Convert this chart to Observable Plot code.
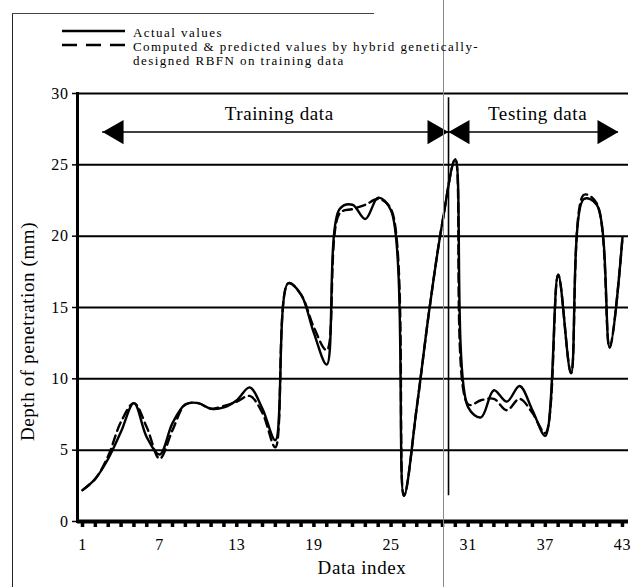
<!DOCTYPE html>
<html>
<head>
<meta charset="utf-8">
<script src="https://cdn.jsdelivr.net/npm/d3@7"></script>
<script src="https://cdn.jsdelivr.net/npm/@observablehq/plot@0.6"></script>
<style>
  body { margin: 0; background: #fff; }
  #wrap { position: relative; width: 635px; height: 587px; font-family: "Liberation Serif", serif; color: #000; overflow: hidden; }
  #chart { position: absolute; left: 0; top: 0; }
  #chart svg text { letter-spacing: 0.6px; }
  #chart svg text.phase { letter-spacing: 3.6px; }
  #chart svg text.axis-title { letter-spacing: 2.6px; }
  .legend { position: absolute; left: 62px; top: 26px; font-size: 13px; letter-spacing: 1.45px; line-height: 14px; }
  .legend .row { display: flex; align-items: flex-start; }
  .legend svg { flex: none; margin-right: 8px; margin-top: 0; }
  .frame-left { position: absolute; left: 12px; top: 13px; width: 1px; height: 574px; background: #222; }
  .frame-top { position: absolute; left: 12px; top: 13px; width: 362px; height: 1px; background: #444; }
  .fold { position: absolute; left: 443px; top: 0; width: 1px; height: 587px; background: #8a8a8a; }
</style>
</head>
<body>
<div id="wrap">
  <div class="frame-left"></div>
  <div class="frame-top"></div>
  <div id="chart"></div>
  <div class="fold"></div>
  <div class="legend">
    <div class="row">
      <svg width="63" height="10"><line x1="0" x2="63" y1="5" y2="5" stroke="#000" stroke-width="2.4"/></svg>
      <div>Actual values</div>
    </div>
    <div class="row">
      <svg width="63" height="10"><line x1="0" x2="63" y1="5" y2="5" stroke="#000" stroke-width="2.4" stroke-dasharray="15,9"/></svg>
      <div>Computed &amp; predicted values by hybrid genetically-<br>designed RBFN on training data</div>
    </div>
  </div>
</div>
<script>
// Data index 1..43 and the two series
const index = d3.range(1, 44);
const actual = [
  2.2, 3.0, 4.4, 6.3, 8.3, 5.9, 4.7, 6.9, 8.2, 8.3,
  7.9, 8.0, 8.5, 9.4, 7.9, 5.7, 16.7, 15.9, 13.2, 11.0,
  21.9, 22.2, 21.2, 22.7, 21.8, 1.8, 8.0, 15.0, 21.0, 25.4,
  8.0, 7.3, 9.2, 8.4, 9.5, 7.8, 6.0, 17.3, 10.4, 22.6,
  22.2, 12.2, 19.9
];
const predicted = [
  2.2, 3.0, 4.6, 7.0, 8.3, 6.6, 4.4, 6.4, 8.2, 8.3,
  7.9, 8.1, 8.4, 8.8, 7.6, 5.2, 16.7, 15.9, 13.6, 12.0,
  21.6, 21.9, 22.2, 22.6, 21.9, 1.8, 8.0, 15.0, 21.0, 25.4,
  8.2, 8.5, 8.6, 7.8, 8.6, 7.6, 6.2, 17.3, 10.4, 22.9,
  22.3, 12.2, 19.9
];

// Axis ticks
const yTicks = [0, 5, 10, 15, 20, 25, 30];
const xTickLabels = [1, 7, 13, 19, 25, 31, 37, 43];

// Training / testing split annotation
const boundary = 29.47;
const phases = ["Training data", "Testing data"];
const phaseCenters = [16.3, 36.4];
const phaseStarts = [2.56, 29.47];
const phaseEnds = [29.47, 42.69];
const arrowLevel = 27.3;
const labelLevel = 28.6;

const rows = index.map((i, k) => ({i, actual: actual[k], predicted: predicted[k]}));

const chart = Plot.plot({
  width: 635,
  height: 587,
  marginLeft: 77,
  marginRight: 7,
  marginTop: 93,
  marginBottom: 66,
  x: {domain: [0.61, 43.47]},
  y: {domain: [0, 30]},
  style: {fontFamily: "'Liberation Serif', serif", fontSize: "16px", color: "#000", background: "transparent"},
  marks: [
    // horizontal grid lines
    Plot.ruleY(yTicks.filter(v => v > 0), {stroke: "#000", strokeWidth: 2}),
    // y axis
    Plot.axisY({ticks: yTicks, tickSize: 5, tickPadding: 4, strokeWidth: 1.5, fontSize: 16, label: null}),
    Plot.frame({anchor: "left", stroke: "#000", strokeWidth: 3}),
    // x axis: comb of ticks under a heavy baseline
    Plot.axisX({ticks: index, tickSize: 6, strokeWidth: 3.5, tickFormat: () => "", label: null}),
    Plot.ruleY([0], {stroke: "#000", strokeWidth: 4}),
    Plot.axisX({ticks: xTickLabels, tickSize: 0, tickPadding: 17, fontSize: 16, label: null}),
    // axis titles
    Plot.text(["Depth of penetration (mm)"], {frameAnchor: "left", textAnchor: "middle", rotate: -90, dx: -50, dy: 24, fontSize: 19, className: "axis-title"}),
    Plot.text(["Data index"], {frameAnchor: "bottom", dx: 9, dy: 52, fontSize: 19, className: "axis-title"}),
    // split between training and testing data
    Plot.ruleX([boundary], {y1: 1.8, y2: 29.7, stroke: "#000", strokeWidth: 1.6}),
    Plot.ruleY(phases, {y: () => arrowLevel, x1: phaseStarts, x2: phaseEnds, stroke: "#000", strokeWidth: 1.5}),
    Plot.dot(phases, {x: phaseStarts, y: () => arrowLevel, symbol: "triangle", r: 9, rotate: -90, dx: 14, fill: "#000", stroke: null}),
    Plot.dot(phases, {x: phaseEnds, y: () => arrowLevel, symbol: "triangle", r: 9, rotate: 90, dx: -14, fill: "#000", stroke: null}),
    Plot.text(phases, {x: phaseCenters, y: () => labelLevel, text: d => d, fontSize: 19, className: "phase"}),
    // series
    Plot.line(rows, {x: "i", y: "actual", curve: "catmull-rom", stroke: "#000", strokeWidth: 2.4}),
    Plot.line(rows, {x: "i", y: "predicted", curve: "catmull-rom", stroke: "#000", strokeWidth: 2.4, strokeDasharray: "9,5"})
  ]
});
document.getElementById("chart").appendChild(chart);
</script>
</body>
</html>
